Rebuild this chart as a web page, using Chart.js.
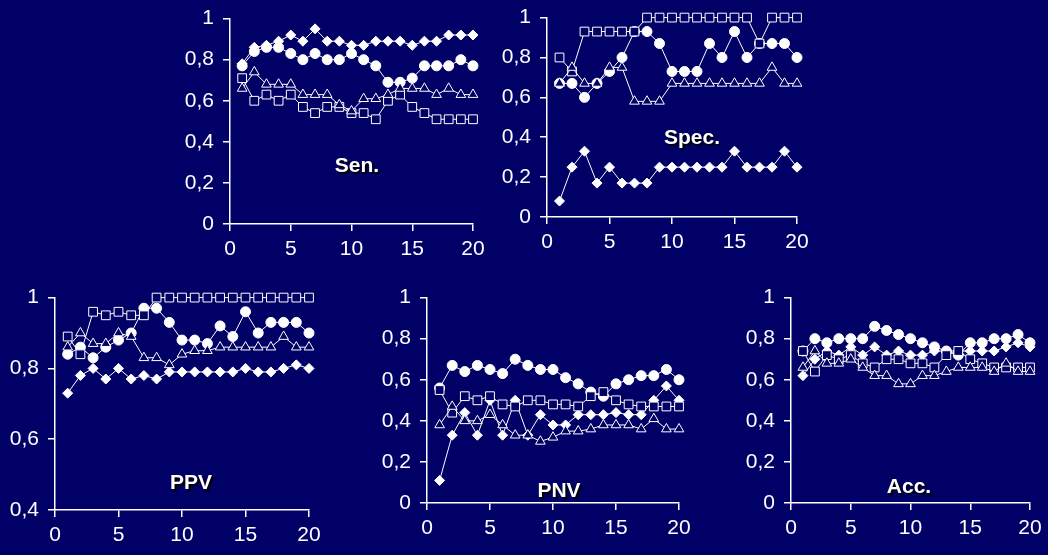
<!DOCTYPE html>
<html>
<head>
<meta charset="utf-8">
<script src="https://cdn.jsdelivr.net/npm/chart.js@4.4.1/dist/chart.umd.min.js"></script>
<style>
  html, body { margin: 0; padding: 0; width: 1048px; height: 555px; overflow: hidden; background: #000066; }
  canvas { position: absolute; }
  .ttl { position: absolute; color: #ffffff; font-family: "Liberation Sans", Arial, sans-serif; font-weight: bold; font-size: 21px; text-shadow: 2px 2px 1px #000000; transform: translate(-50%, -50%); white-space: nowrap; }
</style>
</head>
<body>
<canvas id="c1" width="313" height="263" style="left:180px;top:-3px"></canvas>
<canvas id="c2" width="320" height="257" style="left:497px;top:-4px"></canvas>
<canvas id="c3" width="324" height="270" style="left:5px;top:276px"></canvas>
<canvas id="c4" width="322" height="263" style="left:377px;top:276px"></canvas>
<canvas id="c5" width="309" height="263" style="left:741px;top:276px"></canvas>
<div class="ttl" style="left:357px;top:165px">Sen.</div>
<div class="ttl" style="left:692px;top:137px">Spec.</div>
<div class="ttl" style="left:191px;top:482px">PPV</div>
<div class="ttl" style="left:559px;top:490px">PNV</div>
<div class="ttl" style="left:909px;top:486px">Acc.</div>
<script>
const steps = [1,2,3,4,5,6,7,8,9,10,11,12,13,14,15,16,17,18,19,20];
const xTicks = [0,5,10,15,20];

const senDiamond = [0.78,0.86,0.87,0.89,0.92,0.89,0.95,0.89,0.89,0.87,0.87,0.89,0.89,0.89,0.87,0.89,0.89,0.92,0.92,0.92];
const senCircle  = [0.77,0.84,0.86,0.86,0.83,0.80,0.83,0.80,0.80,0.83,0.80,0.77,0.69,0.69,0.71,0.77,0.77,0.77,0.80,0.77];
const senSquare  = [0.71,0.60,0.63,0.60,0.63,0.57,0.54,0.57,0.57,0.54,0.54,0.51,0.60,0.63,0.57,0.54,0.51,0.51,0.51,0.51];
const senTriangle= [0.66,0.74,0.68,0.68,0.68,0.63,0.63,0.63,0.58,0.55,0.61,0.61,0.63,0.66,0.66,0.66,0.63,0.66,0.63,0.63];

const specDiamond = [0.08,0.25,0.33,0.17,0.25,0.17,0.17,0.17,0.25,0.25,0.25,0.25,0.25,0.25,0.33,0.25,0.25,0.25,0.33,0.25];
const specCircle  = [0.67,0.67,0.60,0.67,0.73,0.80,0.93,0.93,0.87,0.73,0.73,0.73,0.87,0.80,0.93,0.80,0.87,0.87,0.87,0.80];
const specSquare  = [0.80,0.73,0.93,0.93,0.93,0.93,0.93,1.00,1.00,1.00,1.00,1.00,1.00,1.00,1.00,1.00,0.87,1.00,1.00,1.00];
const specTriangle= [0.67,0.75,0.67,0.67,0.75,0.75,0.58,0.58,0.58,0.67,0.67,0.67,0.67,0.67,0.67,0.67,0.67,0.75,0.67,0.67];

const ppvDiamond = [0.73,0.78,0.80,0.77,0.80,0.77,0.78,0.77,0.79,0.79,0.79,0.79,0.79,0.79,0.80,0.79,0.79,0.80,0.81,0.80];
const ppvCircle  = [0.84,0.86,0.83,0.86,0.88,0.90,0.97,0.97,0.93,0.88,0.88,0.87,0.92,0.89,0.96,0.90,0.93,0.93,0.93,0.90];
const ppvSquare  = [0.89,0.84,0.96,0.95,0.96,0.95,0.95,1.00,1.00,1.00,1.00,1.00,1.00,1.00,1.00,1.00,1.00,1.00,1.00,1.00];
const ppvTriangle= [0.86,0.90,0.87,0.87,0.90,0.89,0.83,0.83,0.81,0.84,0.85,0.85,0.86,0.86,0.86,0.86,0.86,0.89,0.86,0.86];

const pnvDiamond = [0.11,0.33,0.44,0.33,0.50,0.33,0.50,0.33,0.43,0.38,0.38,0.43,0.43,0.43,0.44,0.43,0.43,0.50,0.57,0.50];
const pnvCircle  = [0.56,0.67,0.64,0.67,0.65,0.63,0.70,0.67,0.65,0.65,0.61,0.58,0.54,0.52,0.58,0.60,0.62,0.62,0.65,0.60];
const pnvSquare  = [0.55,0.44,0.52,0.50,0.52,0.48,0.47,0.50,0.50,0.48,0.48,0.47,0.52,0.54,0.50,0.48,0.47,0.47,0.47,0.47];
const pnvTriangle= [0.38,0.47,0.40,0.40,0.43,0.38,0.33,0.33,0.30,0.32,0.35,0.35,0.36,0.38,0.38,0.38,0.36,0.41,0.36,0.36];

const accDiamond = [0.62,0.70,0.74,0.72,0.76,0.72,0.76,0.72,0.74,0.72,0.72,0.74,0.74,0.74,0.74,0.74,0.74,0.76,0.78,0.76];
const accCircle  = [0.74,0.80,0.78,0.80,0.80,0.80,0.86,0.84,0.82,0.80,0.78,0.76,0.74,0.72,0.78,0.78,0.80,0.80,0.82,0.78];
const accSquare  = [0.74,0.64,0.72,0.70,0.72,0.68,0.66,0.70,0.70,0.68,0.68,0.66,0.72,0.74,0.70,0.68,0.66,0.66,0.66,0.66];
const accTriangle= [0.66,0.74,0.68,0.68,0.70,0.66,0.62,0.62,0.58,0.58,0.62,0.62,0.64,0.66,0.66,0.66,0.64,0.68,0.64,0.64];

const yTicks01 = [0,0.2,0.4,0.6,0.8,1];
const yTicksPPV = [0.4,0.6,0.8,1];

const BG = '#000066';
const FG = '#ffffff';
const FONT = { family: '"Liberation Sans", Arial, sans-serif', size: 21 };

function ds(vals, style) {
  const base = {
    data: vals.map((v, i) => ({ x: steps[i], y: v })),
    borderColor: FG, borderWidth: 1, pointBorderWidth: 1,
    pointBorderColor: FG, tension: 0, clip: false
  };
  if (style === 'diamond') return Object.assign(base, { pointStyle: 'rectRot', pointRadius: 5, pointBackgroundColor: FG });
  if (style === 'circle') return Object.assign(base, { pointStyle: 'circle', pointRadius: 5, pointBackgroundColor: FG });
  if (style === 'square') return Object.assign(base, { pointStyle: 'rect', pointRadius: 6.2, pointBackgroundColor: BG });
  return Object.assign(base, { pointStyle: 'triangle', pointRadius: 5.6, pointBackgroundColor: BG });
}

function fmt(v) { return String(Math.round(v * 10) / 10).replace('.', ','); }

function make(id, d, c, s, t, yTicks) {
  const ymin = yTicks[0], ymax = yTicks[yTicks.length - 1];
  new Chart(document.getElementById(id), {
    type: 'line',
    data: { datasets: [ds(t, 'triangle'), ds(s, 'square'), ds(d, 'diamond'), ds(c, 'circle')] },
    options: {
      responsive: false, animation: false,
      layout: { padding: { top: 14, right: 20, left: 0, bottom: 0 } },
      plugins: { legend: { display: false }, tooltip: { enabled: false } },
      scales: {
        x: {
          type: 'linear', min: xTicks[0], max: xTicks[xTicks.length - 1],
          afterBuildTicks: (sc) => { sc.ticks = xTicks.map(v => ({ value: v })); },
          afterFit: (sc) => { sc.height = 36; },
          border: { color: FG, width: 1.5 },
          grid: { drawOnChartArea: false, drawTicks: true, tickLength: 7, color: FG, lineWidth: 1.5 },
          ticks: { color: FG, font: FONT, padding: 6, maxRotation: 0, autoSkip: false }
        },
        y: {
          min: ymin, max: ymax,
          afterBuildTicks: (sc) => { sc.ticks = yTicks.map(v => ({ value: v })); },
          afterFit: (sc) => { sc.width = 50; },
          border: { color: FG, width: 1.5 },
          grid: { drawOnChartArea: false, drawTicks: true, tickLength: 7, color: FG, lineWidth: 1.5 },
          ticks: { color: FG, font: FONT, padding: 9, callback: (v) => fmt(v) }
        }
      }
    }
  });
}

make('c1', senDiamond, senCircle, senSquare, senTriangle, yTicks01);
make('c2', specDiamond, specCircle, specSquare, specTriangle, yTicks01);
make('c3', ppvDiamond, ppvCircle, ppvSquare, ppvTriangle, yTicksPPV);
make('c4', pnvDiamond, pnvCircle, pnvSquare, pnvTriangle, yTicks01);
make('c5', accDiamond, accCircle, accSquare, accTriangle, yTicks01);
</script>
</body>
</html>
